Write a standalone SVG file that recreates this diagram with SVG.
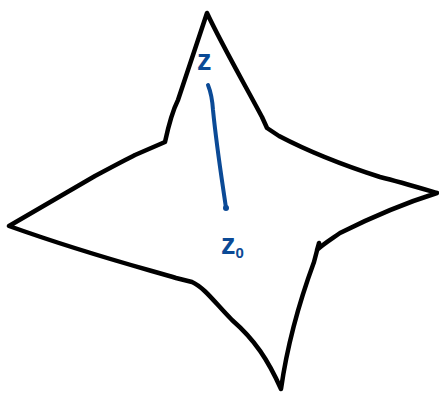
<svg xmlns="http://www.w3.org/2000/svg" width="439" height="395" viewBox="0 0 439 395">
<style>
.outline{fill:none;stroke:#000;stroke-width:4.5;stroke-linejoin:round;stroke-linecap:round}
.seg{stroke:#0b4a96;stroke-width:4;stroke-linecap:round;fill:none}
.lbl{font-family:"Liberation Sans",Arial,sans-serif;font-weight:bold;fill:#0b4a96}
</style>
<rect width="439" height="395" fill="#fff"/>
<g id="star">
<path class="outline" d="M207,13 C222,45 245,85 262,117 L267,128 L279,136 C300,147 330,161 380,177 C400,182 420,188 437,193 C405,203 370,218 340,233 C330,240 322,245 317,250 L319,243 L314,262 C300,300 288,340 281,389 C268,360 255,340 232,320 C215,303 205,288 192,282 L176,278 C150,270 90,255 9,226 L95,176 C110,168 125,160 135,155 L165,142 C168,128 172,112 178,100 C188,70 198,40 207,13 Z"/>
</g>
<g id="connectors">
<path class="seg" d="M208,85 C210,90 212,95 213,110 C217,150 222,180 226,208"/>
<circle cx="226" cy="208" r="3" fill="#0b4a96"/>
</g>
<g id="label-z">
<text class="lbl" x="197" y="70" font-size="29">z</text>
</g>
<g id="label-z0">
<text class="lbl" x="221" y="254" font-size="29">z<tspan font-size="15" dy="4">0</tspan></text>
</g>
</svg>
